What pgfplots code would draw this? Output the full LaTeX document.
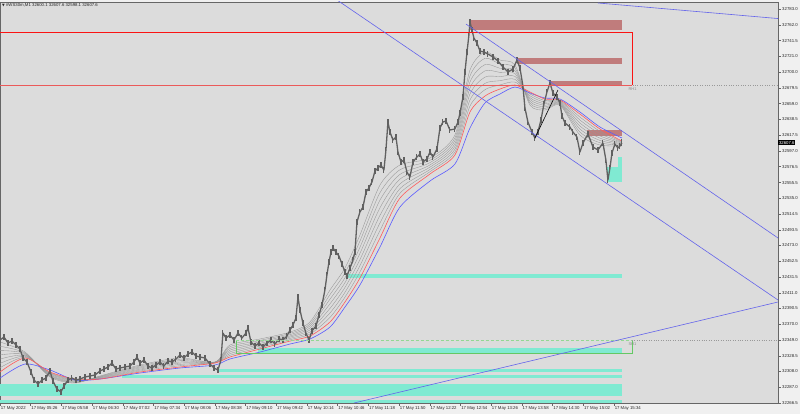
\documentclass[border=0pt]{standalone}
\usepackage{fontspec}
\setmainfont{Liberation Sans}
\newfontfamily\symfont{DejaVu Sans}
\usepackage{pgfplots}
\pgfplotsset{compat=1.18}
\usepackage{pgfplotstable}

\definecolor{plotbg}{RGB}{220,220,220}
\definecolor{outerbg}{RGB}{240,240,240}
\definecolor{supply}{RGB}{192,124,124}
\definecolor{demand}{RGB}{128,234,210}
\definecolor{candle}{RGB}{96,96,96}
\definecolor{maGray}{RGB}{150,150,150}
\definecolor{maRed}{RGB}{255,90,90}
\definecolor{maBlue}{RGB}{90,90,255}
\definecolor{chan}{RGB}{100,100,235}
\definecolor{zoneGreen}{RGB}{100,200,100}
\definecolor{boxRed}{RGB}{250,20,20}
\definecolor{boxRedLight}{RGB}{235,90,90}

\pgfplotstableread{
m p
0 32349.1
4.2 32353.0
8.3 32345.1
12.5 32347.8
16.7 32342.5
20.8 32337.3
24.0 32325.5
28.1 32320.2
32.3 32307.1
35.4 32296.6
39.6 32291.4
43.8 32296.6
47.9 32299.2
52.1 32308.4
55.2 32295.3
59.4 32284.8
63.6 32280.9
66.7 32288.8
70.9 32296.6
75.0 32299.2
79.2 32296.6
83.4 32297.9
88.6 32300.6
93.8 32301.9
99.0 32303.2
104.2 32308.4
108.4 32311.0
112.6 32313.7
116.7 32318.9
120.9 32311.0
125.1 32312.4
130.3 32313.7
135.5 32315.0
139.7 32320.2
142.8 32326.8
145.9 32318.9
150.1 32322.8
154.3 32315.0
158.4 32312.4
162.6 32316.3
166.8 32320.2
170.9 32315.0
175.1 32321.5
179.3 32320.2
183.4 32324.2
187.6 32329.4
191.8 32325.5
196.0 32330.7
200.1 32333.3
204.3 32328.1
208.5 32326.8
213.7 32325.5
218.9 32317.6
223.1 32312.4
227.2 32309.7
230.3 32322.8
232.4 32358.2
235.6 32351.7
239.7 32355.6
243.9 32349.1
248.1 32358.2
252.2 32351.7
256.4 32358.2
258.5 32364.8
261.6 32346.4
265.8 32341.2
270.0 32345.1
274.1 32339.9
278.3 32345.1
282.5 32349.1
286.6 32343.8
290.8 32350.4
295.0 32349.1
299.1 32354.3
302.3 32362.2
305.4 32368.7
308.5 32377.9
310.6 32405.4
312.7 32388.4
315.8 32371.3
318.9 32358.2
322.1 32349.1
325.2 32360.9
329.4 32367.4
332.5 32381.8
335.6 32394.9
338.7 32414.6
340.8 32434.3
342.9 32451.3
345.0 32464.4
347.1 32469.7
350.2 32464.4
353.3 32459.2
356.5 32448.7
359.6 32438.2
361.7 32433.0
364.8 32443.4
367.9 32453.9
370.0 32464.4
372.1 32503.8
375.2 32516.9
378.4 32523.4
381.5 32543.1
384.6 32548.3
387.7 32556.2
390.9 32570.6
394.0 32574.6
397.1 32578.5
400.2 32571.9
402.3 32598.2
404.4 32634.9
406.5 32621.8
409.6 32611.3
412.8 32615.2
414.8 32595.5
418.0 32582.4
421.1 32585.0
424.2 32569.3
427.3 32562.8
430.5 32582.4
434.6 32589.0
437.8 32592.9
440.9 32582.4
445.1 32586.4
448.2 32595.5
451.3 32589.0
455.5 32599.5
458.6 32627.0
461.7 32634.9
464.9 32636.2
469.0 32624.4
474.2 32625.7
477.4 32634.9
479.5 32646.7
482.6 32667.6
484.7 32700.4
486.8 32726.6
488.8 32748.9
489.9 32766.0
492.0 32755.5
494.0 32745.0
497.2 32738.4
500.3 32727.9
504.5 32726.6
508.6 32724.0
513.9 32720.1
519.1 32714.8
524.3 32707.0
529.5 32700.4
534.7 32704.3
538.9 32716.1
542.0 32705.7
545.1 32682.1
547.2 32653.2
550.3 32634.9
554.5 32621.8
557.6 32613.9
560.8 32621.8
563.9 32637.5
567.0 32658.5
570.1 32674.2
573.3 32686.0
576.4 32672.9
580.6 32667.6
583.7 32659.8
585.8 32642.7
588.9 32633.6
594.1 32628.3
597.2 32621.8
601.4 32615.2
604.5 32595.5
607.7 32607.3
612.9 32619.1
618.1 32602.1
623.3 32598.2
628.5 32607.3
631.6 32585.0
633.7 32558.8
635.8 32574.6
637.9 32594.2
641.0 32606.0
644.1 32600.8
646.2 32603.4
648.3 32607.6
}\pricetable

\pgfplotstableread{
m f g1 g2 g3 g4 g5 g6 red blue
0 32346.4 32340.8 32335.2 32329.5 32324.0 32318.4 32312.7 32307.1 32299.2
26.1 32333.3 32332.1 32331.1 32329.9 32328.9 32327.7 32326.6 32325.5 32317.6
52.1 32300.6 32301.5 32302.4 32303.3 32304.4 32305.3 32306.2 32307.1 32309.7
78.2 32292.7 32293.5 32294.1 32294.9 32295.7 32296.5 32297.1 32297.9 32296.6
104.2 32301.9 32301.3 32300.7 32300.2 32299.6 32299.1 32298.5 32297.9 32297.9
145.9 32316.3 32315.0 32313.7 32312.4 32311.0 32309.7 32308.4 32307.1 32305.8
187.6 32325.5 32323.8 32322.0 32320.3 32318.8 32317.1 32315.4 32313.7 32312.4
224.1 32320.2 32320.1 32319.8 32319.7 32319.4 32319.3 32319.0 32318.9 32316.3
239.7 32342.5 32340.3 32338.0 32335.8 32333.5 32331.2 32329.0 32326.8 32324.2
271.0 32350.4 32348.5 32346.6 32344.7 32342.9 32341.1 32339.1 32337.3 32333.3
302.3 32359.5 32357.8 32356.1 32354.4 32352.9 32351.2 32349.5 32347.7 32343.8
323.1 32372.7 32370.0 32367.4 32364.8 32362.2 32359.5 32356.9 32354.3 32350.4
344.0 32414.6 32408.6 32402.7 32396.6 32390.6 32384.6 32378.7 32372.7 32366.1
359.6 32443.5 32437.0 32430.7 32424.3 32418.0 32411.6 32405.3 32398.9 32392.3
375.2 32486.7 32478.7 32470.6 32462.6 32454.5 32446.5 32438.3 32430.3 32421.2
396.1 32552.3 32542.3 32532.5 32522.5 32512.5 32502.6 32492.7 32482.8 32471.0
416.9 32578.5 32572.3 32566.2 32560.0 32553.7 32547.5 32541.4 32535.2 32523.4
448.2 32587.7 32584.6 32581.6 32578.6 32575.7 32572.7 32569.7 32566.7 32557.5
474.2 32617.8 32614.0 32610.3 32606.5 32602.9 32599.1 32595.4 32591.6 32579.8
489.9 32703.0 32695.2 32687.3 32679.4 32671.6 32663.7 32655.8 32648.0 32627.0
505.5 32726.6 32718.4 32710.1 32701.9 32693.7 32685.5 32677.2 32668.9 32659.8
521.2 32716.1 32710.8 32705.3 32699.9 32694.4 32689.0 32683.5 32678.1 32671.6
536.8 32709.6 32705.8 32702.1 32698.3 32694.6 32690.8 32687.2 32683.4 32680.7
552.4 32657.1 32659.6 32662.0 32664.5 32666.8 32669.3 32671.7 32674.2 32672.9
568.1 32650.6 32652.7 32654.7 32656.8 32658.8 32660.9 32662.9 32665.0 32666.3
583.7 32657.1 32658.1 32659.0 32659.9 32660.9 32661.9 32662.8 32663.7 32665.0
604.5 32617.8 32621.7 32625.7 32629.6 32633.5 32637.5 32641.4 32645.3 32648.0
625.4 32604.7 32607.7 32610.7 32613.7 32616.6 32619.6 32622.7 32625.7 32628.3
648.3 32603.4 32604.3 32605.2 32606.1 32607.2 32608.1 32609.0 32609.9 32613.9
}\matable

\begin{document}
\begin{tikzpicture}[x=1pt,y=1pt]
\useasboundingbox (0,0) rectangle (800,414);
\fill[outerbg] (0,0) rectangle (800,414);
\begin{axis}[
  at={(0pt,11pt)}, anchor=south west,
  width=778pt, height=401pt, scale only axis,
  xmin=0, xmax=811, ymin=32266.5, ymax=32792.2,
  scaled y ticks=false, scaled x ticks=false,
  axis background/.style={fill=plotbg},
  axis line style={draw=black!60, line width=0.5pt},
  ytick pos=right, yticklabel pos=right,
  xtick pos=bottom,
  tick align=outside,
  major tick length=3pt,
  tick style={draw=black!60, line width=0.4pt},
  ytick={32266.5,32287.0,32308.0,32328.5,32349.0,32370.0,32390.5,32411.0,32431.5,32452.5,32473.0,32493.5,32514.5,32535.0,32555.5,32576.5,32597.0,32617.5,32638.5,32659.0,32679.5,32700.0,32721.0,32741.5,32762.0,32783.0},
  yticklabels={32266.5,32287.0,32308.0,32328.5,32349.0,32370.0,32390.5,32411.0,32431.5,32452.5,32473.0,32493.5,32514.5,32535.0,32555.5,32576.5,32597.0,32617.5,32638.5,32659.0,32679.5,32700.0,32721.0,32741.5,32762.0,32783.0},
  xtick={0,32,...,640},
  xticklabels={17 May 2022,17 May 05:26,17 May 05:58,17 May 06:30,17 May 07:02,17 May 07:34,17 May 08:06,17 May 08:38,17 May 09:10,17 May 09:42,17 May 10:14,17 May 10:46,17 May 11:18,17 May 11:50,17 May 12:22,17 May 12:54,17 May 13:26,17 May 13:58,17 May 14:30,17 May 15:02,17 May 15:34},
  yticklabel style={font=\fontsize{4.3}{5}\selectfont, text=black!85, inner sep=1pt},
  xticklabel style={font=\fontsize{4.3}{5}\selectfont, text=black!85, anchor=north west, inner sep=0.6pt},
]
% demand zones
\addplot[fill=demand, draw=none] coordinates {(632.7,32556.6) (648.3,32556.6) (648.3,32575.9) (632.7,32575.9)} --cycle;
\addplot[fill=demand, draw=none] coordinates {(644.1,32575.9) (648.3,32575.9) (648.3,32589.0) (644.1,32589.0)} --cycle;
\addplot[fill=demand, draw=none] coordinates {(361.7,32430.7) (648.3,32430.7) (648.3,32435.6) (361.7,32435.6)} --cycle;
\addplot[fill=demand, draw=none] coordinates {(268.9,32331.6) (648.3,32331.6) (648.3,32338.6) (268.9,32338.6)} --cycle;
\addplot[fill=demand, draw=none] coordinates {(226.2,32307.5) (648.3,32307.5) (648.3,32311.0) (226.2,32311.0)} --cycle;
\addplot[fill=demand, draw=none] coordinates {(127.2,32299.9) (648.3,32299.9) (648.3,32303.2) (127.2,32303.2)} --cycle;
\addplot[fill=demand, draw=none] coordinates {(0,32275.6) (648.3,32275.6) (648.3,32291.4) (0,32291.4)} --cycle;
\addplot[fill=demand, draw=none] coordinates {(0,32266.5) (648.3,32266.5) (648.3,32269.8) (0,32269.8)} --cycle;
% supply zones
\addplot[fill=supply, draw=none] coordinates {(488.8,32755.5) (648.3,32755.5) (648.3,32768.6) (488.8,32768.6)} --cycle;
\addplot[fill=supply, draw=none] coordinates {(538.9,32710.9) (648.3,32710.9) (648.3,32719.2) (538.9,32719.2)} --cycle;
\addplot[fill=supply, draw=none] coordinates {(573.3,32682.4) (648.3,32682.4) (648.3,32688.6) (573.3,32688.6)} --cycle;
\addplot[fill=supply, draw=none] coordinates {(611.8,32616.5) (648.3,32616.5) (648.3,32624.4) (611.8,32624.4)} --cycle;
% moving averages
\addplot[maGray, line width=0.35pt, smooth, tension=0.45] table[x=m,y=f]{\matable};
\addplot[maGray, line width=0.35pt, smooth, tension=0.45] table[x=m,y=g1]{\matable};
\addplot[maGray, line width=0.35pt, smooth, tension=0.45] table[x=m,y=g2]{\matable};
\addplot[maGray, line width=0.35pt, smooth, tension=0.45] table[x=m,y=g3]{\matable};
\addplot[maGray, line width=0.35pt, smooth, tension=0.45] table[x=m,y=g4]{\matable};
\addplot[maGray, line width=0.35pt, smooth, tension=0.45] table[x=m,y=g5]{\matable};
\addplot[maGray, line width=0.35pt, smooth, tension=0.45] table[x=m,y=g6]{\matable};
\addplot[maBlue, line width=0.6pt, smooth, tension=0.45] table[x=m,y=blue]{\matable};
\addplot[maRed, line width=0.6pt, smooth, tension=0.45] table[x=m,y=red]{\matable};
% price (candles: close path with high-low ranges)
\addplot[candle, line width=1.3pt, line join=round,
  error bars/.cd, y dir=both, y fixed=4.5, error mark=none,
  error bar style={candle, line width=1.1pt}] table[x=m,y=p]{\pricetable};
% red resistance box
\addplot[boxRed, line width=0.7pt] coordinates {(-5,32752.5) (658.7,32752.5) (658.7,32683.0)};
\addplot[boxRedLight, line width=0.7pt] coordinates {(-5,32683.0) (658.7,32683.0)};
\addplot[black!40, line width=0.4pt, dotted] coordinates {(659.5,32683.0) (811,32683.0)};
% green support box
\addplot[zoneGreen, line width=0.6pt] coordinates {(246.0,32349.1) (246.0,32331.4) (658.7,32331.4) (658.7,32349.1)};
\addplot[zoneGreen!70, line width=0.6pt, densely dashed] coordinates {(246.0,32349.1) (658.7,32349.1)};
\addplot[black!40, line width=0.4pt, dotted] coordinates {(658.7,32349.1) (811,32349.1)};
% channel lines
\addplot[chan, line width=0.6pt] coordinates {(351.3,32794.8) (811,32401.5)};
\addplot[chan, line width=0.6pt] coordinates {(485.7,32763.3) (811,32482.8)};
\addplot[chan, line width=0.6pt] coordinates {(369.0,32266.5) (811,32398.9)};
\addplot[chan, line width=0.6pt] coordinates {(623.3,32790.9) (811,32770.5)};
% black trend line
\addplot[black, line width=0.6pt] coordinates {(557.6,32613.9) (581.6,32676.8)};
\node[anchor=west, font=\fontsize{4}{5}\selectfont, text=black!45, inner sep=0] at (axis cs:655,32678.1) {RH1};
\node[anchor=west, font=\fontsize{4}{5}\selectfont, text=black!45, inner sep=0] at (axis cs:655,32343.8) {SH1};
\coordinate (cp) at (axis cs:811,32607.6);
\end{axis}
\node[anchor=west, fill=black, text=white, font=\fontsize{4.3}{5}\selectfont, inner sep=0.8pt] at (cp) {32607.6};
\node[anchor=west, font=\fontsize{4.3}{5}\selectfont, text=black!85, inner sep=0] at (2,409) {{\symfont\fontsize{3.5}{4}\selectfont ▼}\ \#WS30m,M1 32600.1 32607.6 32598.1 32607.6};
\end{tikzpicture}
\end{document}
